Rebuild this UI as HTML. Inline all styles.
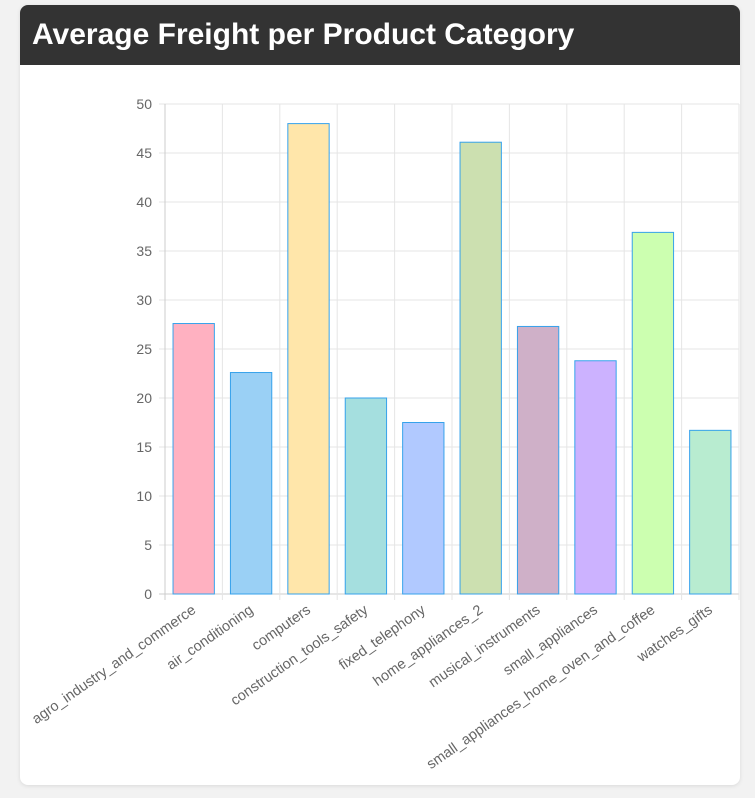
<!DOCTYPE html>
<html><head><meta charset="utf-8">
<style>
body{margin:0;background:#f2f2f2;width:755px;height:798px;overflow:hidden;font-family:"Liberation Sans",Arial,sans-serif}
.card{position:absolute;left:20px;top:5px;width:720px;height:780px;background:#fff;border-radius:8px;overflow:hidden;box-shadow:0 1px 4px rgba(0,0,0,.1)}
.hdr{height:60px;background:#333;color:#fff;font-weight:bold;font-size:30px;line-height:60px;padding-left:12px}
svg{position:absolute;left:0;top:0}
</style></head><body>
<div class="card">
<div class="hdr">Average Freight per Product Category</div>
</div>
<svg id="chart" width="755" height="798"></svg>
<script>
const categories=["agro_industry_and_commerce","air_conditioning","computers","construction_tools_safety","fixed_telephony","home_appliances_2","musical_instruments","small_appliances","small_appliances_home_oven_and_coffee","watches_gifts"];
const values=[27.6,22.6,48.0,20.0,17.5,46.1,27.3,23.8,36.9,16.7];
const colors=["#ffb1c1","#9ad0f5","#ffe6aa","#a5dfdf","#b1c9ff","#cce0b0","#cfb0c8","#ccb2ff","#ccffb0","#b8ecd0"];
const yTicks=[0,5,10,15,20,25,30,35,40,45,50];
const NS="http://www.w3.org/2000/svg",svg=document.getElementById("chart");
const X0=165,X1=739,Y0=594,Y1=104,MAX=50;
const bw=(X1-X0)/categories.length;
const y=v=>Y0-(v/MAX)*(Y0-Y1);
const x=i=>X0+i*bw;
function mk(t,a){const e=document.createElementNS(NS,t);for(const k in a)e.setAttribute(k,a[k]);svg.appendChild(e);return e;}
yTicks.forEach(t=>{
 const g=mk("line",{x1:X0-6,x2:X1,y1:y(t),y2:y(t),stroke:t===0?"#ccc":"#e5e5e5"});
 
 
 const l=mk("text",{x:X0-13,y:y(t)+5,"text-anchor":"end","font-size":14,fill:"#666","font-family":"Liberation Sans, sans-serif"});
 l.textContent=t;
 
 
});
for(let i=0;i<=categories.length;i++){
 const g=mk("line",{x1:x(i),x2:x(i),y1:Y1,y2:Y0+6,stroke:i===0?"#ccc":"#e5e5e5"});
 
 
}
categories.forEach((c,i)=>{
 const cx=x(i)+bw/2,w=bw*0.72;
 const r=mk("rect",{x:cx-w/2,y:y(values[i]),width:w,height:Y0-y(values[i]),fill:colors[i],stroke:"#36a2eb","stroke-width":1});
 
 
 const tx=cx+3,ty=Y0+18;
 const t=mk("text",{x:tx,y:ty,"text-anchor":"end","font-size":14.5,fill:"#666","font-family":"Liberation Sans, sans-serif",transform:`rotate(-35 ${tx} ${ty})`});
 t.textContent=c;
 
 
});
</script>
</body></html>
